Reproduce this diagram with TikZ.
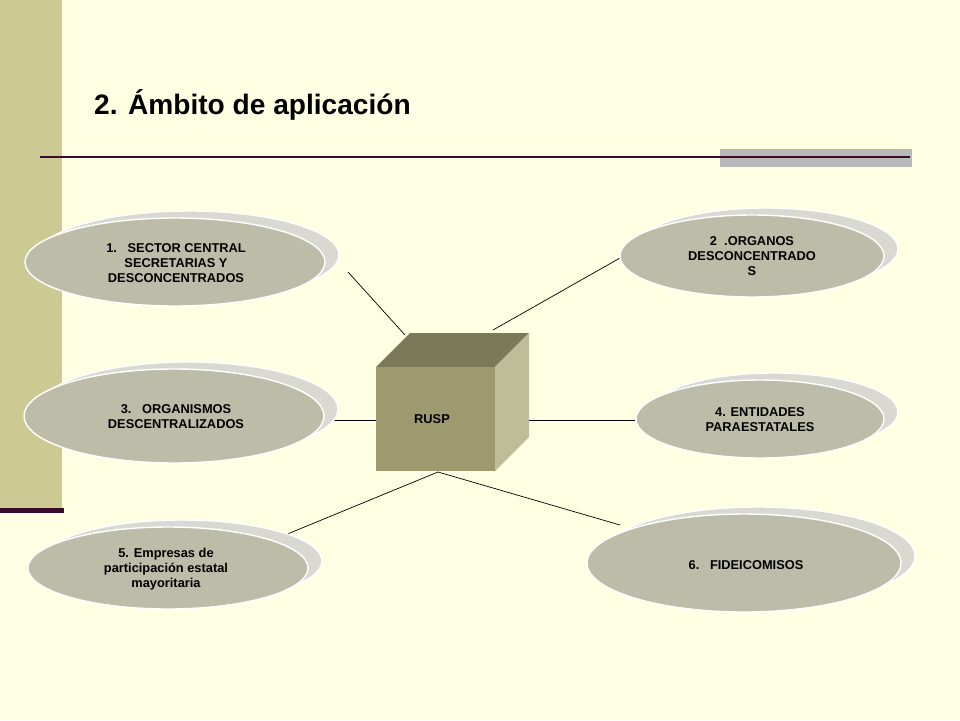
\documentclass[tikz,border=0pt]{standalone}
\usepackage{fontspec}
\setmainfont{Liberation Sans}
\definecolor{bg}{HTML}{FFFFE3}
\definecolor{bar}{HTML}{CCC993}
\definecolor{dline}{HTML}{3A0A2A}
\definecolor{front}{HTML}{BDBCA9}
\definecolor{back}{HTML}{D9D9D2}
\definecolor{cubef}{HTML}{9C9A6E}
\definecolor{cubet}{HTML}{7B7A58}
\definecolor{cubes}{HTML}{BFBD99}
\begin{document}
\begin{tikzpicture}[x=0.02cm,y=-0.02cm,
  lbl/.style={font=\bfseries\fontsize{7.3pt}{8.6pt}\selectfont,align=center,text=black},
  disc/.style={fill=front,draw=white,line width=0.8pt},
  discb/.style={fill=back,draw=white,line width=0.8pt},
  conn/.style={draw=black,line width=0.4pt}]
\useasboundingbox (0,0) rectangle (960,720);
\fill[bg] (0,0) rectangle (960,720);
\fill[bar] (0,0) rectangle (62,510);
\fill[dline] (0,508) rectangle (64,513);
\node[anchor=west,font=\bfseries\fontsize{16pt}{19pt}\selectfont] (title) at (88,105) {2. Ámbito de aplicación};
\fill[gray!55] (720,149) rectangle (912,167);
\draw[dline,line width=1pt] (40,157) -- (910,157);
% connectors
\coordinate (c1) at (348,272); \coordinate (c2) at (620,258);
\coordinate (c3) at (333,420); \coordinate (c4) at (635,420);
\coordinate (c5) at (285,535); \coordinate (c6) at (620,525);
\coordinate (k1) at (405,335); \coordinate (k2) at (493,330);
\coordinate (k3) at (376,420); \coordinate (k4) at (495,420);
\coordinate (k5) at (438,472);
\draw[conn] (c1)--(k1); \draw[conn] (c2)--(k2);
\draw[conn] (c3)--(k3); \draw[conn] (c4)--(k4);
\draw[conn] (c5)--(k5); \draw[conn] (k5)--(c6);
% cube
\fill[cubet] (376,367)--(410,333)--(529,333)--(495,367)--cycle;
\fill[cubes] (495,367)--(529,333)--(529,437)--(495,471)--cycle;
\fill[cubef] (376,367) rectangle (495,471);
\node[lbl] (rusp) at (432,419) {RUSP};
% discs
\def\disc#1#2#3#4#5{\fill[discb] (#1+14,#2-7) ellipse ({#3} and {#4});
  \fill[disc] (#1,#2) ellipse ({#3} and {#4});}
\disc{175}{262}{150}{44}{}
\disc{752}{256}{132}{41}{}
\disc{174}{416}{150}{47}{}
\disc{760}{419}{124}{39}{}
\disc{168}{568}{140}{41}{}
\disc{744}{563}{157}{49}{}
\node[lbl] (e1) at (176,263) {1.\ \ \ SECTOR CENTRAL\\SECRETARIAS Y\\DESCONCENTRADOS};
\node[lbl] (e2) at (752,256) {2\ \ .ORGANOS\\DESCONCENTRADO\\S};
\node[lbl] (e3) at (176,417) {3.\ \ \ ORGANISMOS\\DESCENTRALIZADOS};
\node[lbl] (e4) at (760,420) {4. ENTIDADES\\PARAESTATALES};
\node[lbl] (e5) at (166,569) {5. Empresas de\\participación estatal\\mayoritaria};
\node[lbl] (e6) at (746,565) {6.\ \ \ FIDEICOMISOS};
\end{tikzpicture}
\end{document}
